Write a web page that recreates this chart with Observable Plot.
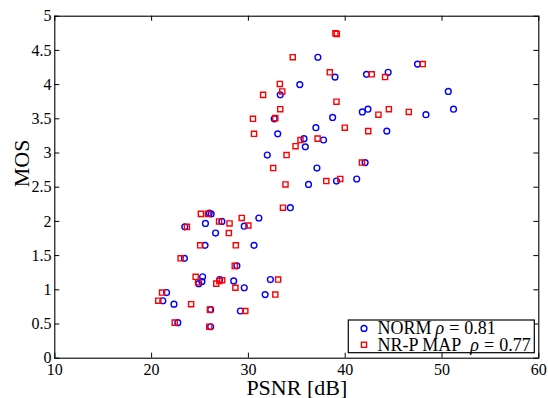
<!DOCTYPE html>
<html>
<head>
<meta charset="utf-8">
<script src="https://cdn.jsdelivr.net/npm/d3@7"></script>
<script src="https://cdn.jsdelivr.net/npm/@observablehq/plot@0.6"></script>
<style>
  html, body { margin: 0; padding: 0; background: #fff; }
  #chart { position: relative; width: 548px; height: 398px; }
</style>
</head>
<body>
<div id="chart"></div>
<script>
const xTicks = [10, 20, 30, 40, 50, 60];
const yTicks = [0, 0.5, 1, 1.5, 2, 2.5, 3, 3.5, 4, 4.5, 5];
const xLabel = "PSNR [dB]";
const yLabel = "MOS";
const seriesNames = ["NORM", "NR-P MAP"];
const seriesRho = ["0.81", "0.77"];

const normX = [37.18,47.47,44.44,42.20,38.95,35.31,33.29,50.65,51.19,42.35,41.77,48.34,38.70,32.67,36.97,44.30,33.03,35.74,37.76,35.88,31.95,37.08,42.06,36.21,39.10,41.19,34.33,31.08,25.95,26.15,27.26,25.56,23.43,29.57,26.61,25.52,30.58,23.39,28.81,25.27,25.20,24.87,27.04,28.48,32.27,29.57,31.73,21.55,21.16,22.31,26.10,29.17,22.71,26.10];
const normY = [4.40,4.30,4.18,4.15,4.11,4.00,3.85,3.90,3.64,3.64,3.60,3.56,3.52,3.50,3.37,3.32,3.28,3.21,3.19,3.09,2.97,2.78,2.86,2.54,2.59,2.62,2.20,2.05,2.12,2.11,2.00,1.97,1.92,1.93,1.83,1.65,1.65,1.46,1.35,1.19,1.12,1.09,1.15,1.13,1.15,1.03,0.93,0.96,0.84,0.79,0.71,0.69,0.52,0.46];

const mapX = [38.99,39.13,34.58,48.01,38.41,42.74,44.12,33.25,33.50,31.52,39.10,33.29,44.51,46.57,43.43,30.47,32.78,39.96,42.38,30.58,37.15,35.38,34.87,33.94,32.56,41.73,33.83,38.05,39.49,33.57,25.09,25.81,29.31,26.97,28.05,23.65,30.00,27.98,25.02,28.70,23.00,28.59,24.55,24.80,27.29,27.00,33.07,26.68,28.66,32.78,21.08,20.69,24.08,26.03,29.68,22.39,25.96];
const mapY = [4.75,4.74,4.40,4.30,4.18,4.15,4.11,4.01,3.90,3.85,3.75,3.64,3.64,3.60,3.56,3.50,3.51,3.37,3.32,3.28,3.21,3.19,3.10,2.97,2.78,2.86,2.54,2.59,2.62,2.20,2.11,2.11,2.05,2.00,1.97,1.92,1.94,1.83,1.65,1.65,1.46,1.35,1.19,1.11,1.14,1.13,1.15,1.09,1.03,0.93,0.96,0.84,0.79,0.71,0.69,0.52,0.46];

const norm = normX.map((x, i) => ({x, y: normY[i]}));
const nrp = mapX.map((x, i) => ({x, y: mapY[i]}));

const W = 548, H = 398;
const mL = 54.3, mR = 9.7, mT = 15.7, mB = 40.3;
const pw = W - mL - mR, ph = H - mT - mB;
const tk = 5;
const font = '"Liberation Serif", "Times New Roman", "DejaVu Serif", serif';
const BLUE = "#0000ff", RED = "#ff0000";
const R = 2.9;

const plot = Plot.plot({
  width: W, height: H,
  marginLeft: mL, marginRight: mR, marginTop: mT, marginBottom: mB,
  style: {background: "white", color: "black", overflow: "visible"},
  x: {domain: [xTicks[0], xTicks[xTicks.length - 1]]},
  y: {domain: [yTicks[0], yTicks[yTicks.length - 1]]},
  marks: [
    Plot.ruleY(yTicks, {y: d => d, stroke: "black", strokeWidth: 1, insetRight: pw - tk}),
    Plot.ruleY(yTicks, {y: d => d, stroke: "black", strokeWidth: 1, insetLeft: pw - tk}),
    Plot.ruleX(xTicks, {x: d => d, stroke: "black", strokeWidth: 1, insetTop: ph - tk}),
    Plot.ruleX(xTicks, {x: d => d, stroke: "black", strokeWidth: 1, insetBottom: ph - tk}),
    Plot.frame({stroke: "black", strokeWidth: 1.1}),
    Plot.axisY(yTicks, {tickSize: 0, tickPadding: 3.3, fontSize: 16, label: null, tickFormat: d => String(d)}),
    Plot.axisX(xTicks, {tickSize: 0, tickPadding: 5, fontSize: 16, label: null, tickFormat: d => String(d)}),
    Plot.dot(norm, {x: "x", y: "y", r: R, stroke: BLUE, strokeWidth: 1.4, fill: "none"}),
    Plot.dot(nrp, {x: "x", y: "y", r: R, symbol: "square", stroke: RED, strokeWidth: 1.4, fill: "none"}),
    Plot.text([xLabel], {text: d => d, frameAnchor: "bottom", dy: 29.3, fontSize: 22, lineAnchor: "middle", fill: "black"}),
    Plot.text([yLabel], {text: d => d, frameAnchor: "left", dx: -32.6, rotate: -90, fontSize: 22, lineAnchor: "middle", fill: "black"})
  ]
});
document.getElementById("chart").appendChild(plot);

// Legend (inside the SVG, lower right)
const svg = d3.select(plot);
const lg = svg.append("g").attr("font-size", 18).attr("fill", "black").attr("text-anchor", "start");
lg.append("rect").attr("x", 348.3).attr("y", 320).attr("width", 186).attr("height", 32.7)
  .attr("fill", "white").attr("stroke", "black").attr("stroke-width", 1.2);
const rows = [
  {name: seriesNames[0], rho: seriesRho[0], cy: 328.4, gap: 4, kind: "circle", color: BLUE},
  {name: seriesNames[1], rho: seriesRho[1], cy: 344.8, gap: 9, kind: "square", color: RED}
];
const side = R * Math.sqrt(Math.PI);
rows.forEach(r => {
  if (r.kind === "circle") {
    lg.append("circle").attr("cx", 364).attr("cy", r.cy).attr("r", R)
      .attr("fill", "none").attr("stroke", r.color).attr("stroke-width", 1.4);
  } else {
    lg.append("rect").attr("x", 364 - side / 2).attr("y", r.cy - side / 2).attr("width", side).attr("height", side)
      .attr("fill", "none").attr("stroke", r.color).attr("stroke-width", 1.4);
  }
  const t = lg.append("text").attr("x", 377.5).attr("y", r.cy + 5.7).attr("text-anchor", "start");
  t.append("tspan").text(r.name);
  t.append("tspan").attr("dx", r.gap).attr("font-style", "italic").text("ρ");
  t.append("tspan").attr("dx", 5).text("=");
  t.append("tspan").attr("dx", 5).text(r.rho);
});

// serif font everywhere
svg.style("font-family", font);
svg.selectAll("g").attr("font-family", font).style("font-family", font);
svg.selectAll("text").attr("font-family", font).style("font-family", font, "important");
</script>
</body>
</html>
